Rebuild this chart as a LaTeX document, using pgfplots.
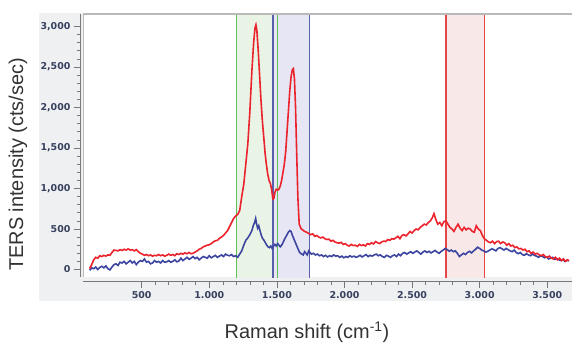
\documentclass[border=0pt]{standalone}
\usepackage{pgfplots}
\pgfplotsset{compat=1.18}
\usetikzlibrary{calc,backgrounds}
\usepackage{fontspec}
\setmainfont{Liberation Sans}
\newfontfamily\tickfont{DejaVu Sans}
\definecolor{panel}{RGB}{239,240,241}
\definecolor{axisgray}{RGB}{120,120,120}
\definecolor{tickcol}{RGB}{55,65,95}
\definecolor{labelcol}{RGB}{50,50,50}
\definecolor{redc}{RGB}{235,35,45}
\definecolor{bluec}{RGB}{60,70,160}
\definecolor{gline}{RGB}{95,190,85}
\definecolor{gfill}{RGB}{234,244,230}
\definecolor{bline}{RGB}{90,95,170}
\definecolor{bfill}{RGB}{230,230,244}
\definecolor{rline}{RGB}{228,70,70}
\definecolor{rfill}{RGB}{249,232,232}
\begin{document}
\begin{tikzpicture}[x=1bp,y=1bp]
\begin{axis}[
  name=ax, at={(0,0)}, anchor=south west,
  scale only axis, width=488.5bp, height=263bp,
  xmin=69.5, xmax=3683, ymin=-92.6, ymax=3154,
  axis x line*=bottom, axis y line*=left,
  axis x line shift=4.5bp, axis y line shift=3.5bp,
  axis line style={draw=axisgray, line width=0.8bp},
  tick align=outside, major tick length=6bp, minor tick length=3bp,
  tick style={draw=axisgray, line width=0.6bp},
  minor tick num=4,
  xtick={500,1000,1500,2000,2500,3000,3500},
  xticklabels={500,{1.000},{1.500},{2.000},{2.500},{3.000},{3.500}},
  ytick={0,500,1000,1500,2000,2500,3000},
  yticklabels={0,500,{1,000},{1,500},{2,000},{2,500},{3,000}},
  tick label style={font=\tickfont\bfseries\fontsize{9.5}{11}\selectfont, text=tickcol},
  axis background/.style={fill=white},
  xlabel={Raman shift (cm\textsuperscript{-1})},
  ylabel={TERS intensity (cts/sec)},
  every axis x label/.style={at={(axis description cs:0.4575,-0.21)}, anchor=center, font=\fontsize{20}{23}\selectfont, text=labelcol},
  every axis y label/.style={at={(axis description cs:-0.134,0.428)}, anchor=center, rotate=90, font=\fontsize{20}{23}\selectfont, text=labelcol},
]
% bands
\addplot[fill=gfill, draw=none] coordinates {(1200,-200) (1505,-200) (1505,3300) (1200,3300)} -- cycle;
\addplot[fill=bfill, draw=none] coordinates {(1472,-200) (1742,-200) (1742,3300) (1472,3300)} -- cycle;
\addplot[fill=rfill, draw=none] coordinates {(2750,-200) (3035,-200) (3035,3300) (2750,3300)} -- cycle;
\addplot[gline, line width=1.3bp] coordinates {(1200,-200) (1200,3300)};
\addplot[gline, line width=1.3bp] coordinates {(1505,-200) (1505,3300)};
\addplot[bline, line width=1.3bp] coordinates {(1472,-200) (1472,3300)};
\addplot[bline, line width=1.3bp] coordinates {(1742,-200) (1742,3300)};
\addplot[rline, line width=1.3bp] coordinates {(2750,-200) (2750,3300)};
\addplot[rline, line width=1.3bp] coordinates {(3035,-200) (3035,3300)};
% blue spectrum
\addplot[bluec, line width=1.6bp] coordinates {
(115,-10) (130,20) (145,10) (160,30) (175,0) (190,25) (205,40) (220,20) (235,45) (250,10)
(265,-5) (280,30) (295,60) (310,70) (325,50) (340,90) (355,80) (370,100) (385,70) (400,90)
(415,110) (430,80) (445,100) (460,60) (475,90) (490,110) (505,100) (520,130) (535,90) (550,100)
(565,70) (580,80) (595,110) (610,90) (625,100) (640,80) (655,110) (670,90) (685,95) (700,110)
(715,90) (730,100) (745,120) (760,95) (775,105) (790,140) (805,110) (820,130) (835,150) (850,125)
(865,140) (880,160) (895,135) (910,150) (925,120) (940,140) (955,160) (970,150) (985,140) (1000,170)
(1015,145) (1030,160) (1045,175) (1060,150) (1075,165) (1090,180) (1105,160) (1120,190) (1135,175) (1150,170)
(1165,185) (1180,160) (1195,170) (1210,150) (1225,190) (1240,230) (1255,300) (1270,360) (1285,390) (1300,430)
(1315,480) (1325,540) (1335,580) (1343,630) (1350,560) (1358,510) (1366,540) (1375,480) (1385,420) (1395,380)
(1405,360) (1415,330) (1425,300) (1435,280) (1445,270) (1455,290) (1465,260) (1475,290) (1485,310) (1495,290)
(1505,320) (1515,300) (1525,280) (1535,300) (1545,330) (1555,370) (1565,400) (1575,430) (1585,460) (1595,480)
(1605,470) (1615,420) (1625,380) (1635,340) (1645,300) (1655,260) (1665,220) (1675,200) (1685,190) (1695,180)
(1705,220) (1715,200) (1725,180) (1735,230) (1745,210) (1755,190) (1770,200) (1785,180) (1800,190) (1815,170)
(1830,180) (1845,160) (1860,175) (1875,155) (1890,170) (1905,160) (1920,180) (1935,165) (1950,170) (1965,150)
(1980,165) (1995,145) (2010,160) (2025,150) (2040,170) (2055,155) (2070,165) (2085,150) (2100,160) (2115,175)
(2130,155) (2145,170) (2160,185) (2175,160) (2190,175) (2205,165) (2220,180) (2235,190) (2250,170) (2265,180)
(2280,160) (2295,150) (2310,175) (2325,165) (2340,150) (2355,170) (2370,180) (2385,160) (2400,190) (2415,170)
(2430,200) (2445,210) (2460,190) (2475,205) (2490,220) (2505,200) (2520,215) (2535,230) (2550,210) (2565,190)
(2580,215) (2595,230) (2610,210) (2625,225) (2640,205) (2655,220) (2670,235) (2685,215) (2700,200) (2715,225)
(2730,240) (2745,260) (2760,245) (2775,225) (2790,240) (2805,220) (2820,230) (2835,200) (2850,160) (2865,180)
(2880,200) (2895,185) (2910,210) (2925,225) (2940,205) (2955,230) (2970,250) (2985,275) (3000,260) (3015,240)
(3030,230) (3045,215) (3060,225) (3075,240) (3090,255) (3105,245) (3120,230) (3135,260) (3150,270) (3165,255)
(3180,240) (3195,260) (3210,245) (3225,230) (3240,220) (3255,240) (3270,210) (3285,195) (3300,210) (3315,185)
(3330,175) (3345,195) (3360,180) (3375,170) (3390,190) (3405,175) (3420,165) (3435,150) (3450,170) (3465,160)
(3480,145) (3495,155) (3510,130) (3525,140) (3540,150) (3555,125) (3570,135) (3585,120) (3600,110) (3615,125)
(3630,100) (3645,115) (3660,105)
};
% red spectrum
\addplot[redc, line width=1.6bp] coordinates {
(115,10) (130,60) (145,120) (160,150) (175,140) (190,170) (205,160) (220,175) (235,165) (250,180)
(265,175) (280,210) (295,240) (310,235) (325,230) (340,245) (355,235) (370,250) (385,240) (400,255)
(415,240) (430,245) (445,230) (460,245) (475,220) (490,200) (505,190) (520,175) (535,185) (550,170)
(565,180) (580,165) (595,175) (610,170) (625,185) (640,170) (655,180) (670,165) (685,175) (700,190)
(715,175) (730,185) (745,170) (760,195) (775,185) (790,200) (805,190) (820,205) (835,195) (850,210)
(865,195) (880,200) (895,215) (910,230) (925,250) (940,260) (955,280) (970,290) (985,300) (1000,305)
(1015,320) (1030,340) (1045,355) (1060,360) (1075,385) (1090,400) (1105,420) (1120,450) (1135,480) (1150,530)
(1165,580) (1180,630) (1195,660) (1210,680) (1225,730) (1240,900) (1255,1050) (1270,1300) (1285,1550) (1300,1950)
(1315,2450) (1328,2800) (1338,2980) (1345,3020) (1352,2950) (1362,2700) (1372,2400) (1382,2100) (1392,1850) (1402,1650)
(1412,1450) (1422,1300) (1432,1180) (1442,1100) (1452,1060) (1462,980) (1470,870) (1478,880) (1485,950) (1495,990)
(1505,980) (1515,990) (1525,1030) (1535,1100) (1545,1200) (1555,1300) (1565,1450) (1575,1700) (1585,1950) (1595,2200)
(1605,2380) (1615,2470) (1622,2480) (1630,2350) (1638,2000) (1646,1470) (1655,900) (1665,560) (1680,500) (1690,490)
(1705,470) (1720,460) (1735,445) (1750,430) (1765,440) (1780,410) (1795,420) (1810,400) (1825,390) (1840,400)
(1855,380) (1870,370) (1885,375) (1900,350) (1915,360) (1930,340) (1945,330) (1960,325) (1975,335) (1990,310)
(2005,320) (2020,300) (2035,290) (2050,310) (2065,295) (2080,300) (2095,285) (2110,310) (2125,295) (2140,305)
(2155,290) (2170,320) (2185,310) (2200,330) (2215,315) (2230,345) (2245,330) (2260,320) (2275,340) (2290,350)
(2305,345) (2320,370) (2335,360) (2350,380) (2365,375) (2380,390) (2395,410) (2410,380) (2425,420) (2440,430)
(2455,415) (2470,440) (2485,470) (2500,450) (2515,480) (2530,500) (2545,490) (2560,520) (2575,540) (2590,560)
(2605,550) (2620,580) (2635,600) (2650,640) (2662,690) (2675,620) (2690,560) (2705,580) (2720,540) (2735,590)
(2750,600) (2765,560) (2780,520) (2795,500) (2810,470) (2825,520) (2840,560) (2855,510) (2870,480) (2885,520)
(2900,490) (2915,510) (2930,500) (2945,470) (2960,460) (2975,540) (2990,500) (3005,480) (3020,420) (3035,380)
(3050,360) (3065,340) (3080,330) (3095,350) (3110,320) (3125,345) (3140,350) (3155,320) (3170,340) (3185,330)
(3200,300) (3215,320) (3230,290) (3245,300) (3260,270) (3275,280) (3290,255) (3305,260) (3320,240) (3335,250)
(3350,220) (3365,230) (3380,200) (3395,215) (3410,190) (3425,200) (3440,180) (3455,170) (3470,185) (3485,160)
(3500,150) (3515,165) (3530,140) (3545,130) (3560,150) (3575,120) (3590,140) (3605,110) (3620,130) (3635,100)
(3650,120) (3660,110)
};
\draw[gray!55, line width=1.6bp] (rel axis cs:0,1) -- (rel axis cs:1,1);
\draw[gray!80, line width=0.8bp] (rel axis cs:0,0) -- (rel axis cs:0,1);
\end{axis}
\begin{pgfonlayer}{background}
\fill[panel] ($(ax.south west)+(-44.5,-23.7)$) rectangle ($(ax.south west)+(488.5,264.3)$);
\end{pgfonlayer}
\pgfresetboundingbox
\useasboundingbox ($(ax.south west)+(-83.5,-69)$) rectangle ++(572,346);
\end{tikzpicture}
\end{document}
